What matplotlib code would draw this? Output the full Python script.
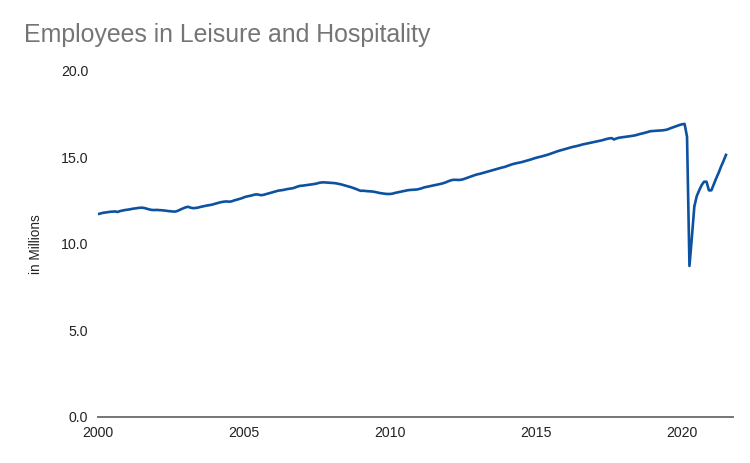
import matplotlib
matplotlib.use("Agg")
import matplotlib.pyplot as plt
import numpy as np

plt.rcParams['font.family'] = ['Liberation Sans', 'DejaVu Sans']

# Monthly employees in leisure and hospitality (millions), Jan 2000 - Jul 2021
years = list(range(2000, 2022))
values_by_year = {
    2000: [11.73, 11.76, 11.80, 11.82, 11.84, 11.86, 11.87, 11.88, 11.85, 11.90, 11.93, 11.96],
    2001: [11.98, 12.00, 12.03, 12.05, 12.07, 12.09, 12.10, 12.08, 12.04, 12.00, 11.97, 11.96],
    2002: [11.97, 11.96, 11.95, 11.94, 11.92, 11.90, 11.89, 11.87, 11.88, 11.93, 12.00, 12.06],
    2003: [12.12, 12.15, 12.10, 12.07, 12.08, 12.10, 12.14, 12.17, 12.20, 12.23, 12.25, 12.28],
    2004: [12.32, 12.36, 12.40, 12.43, 12.45, 12.46, 12.44, 12.47, 12.52, 12.56, 12.60, 12.64],
    2005: [12.70, 12.74, 12.77, 12.80, 12.84, 12.87, 12.85, 12.82, 12.84, 12.88, 12.92, 12.96],
    2006: [13.00, 13.04, 13.08, 13.10, 13.12, 13.15, 13.18, 13.20, 13.22, 13.27, 13.32, 13.36],
    2007: [13.37, 13.39, 13.41, 13.43, 13.45, 13.47, 13.50, 13.54, 13.56, 13.56, 13.55, 13.54],
    2008: [13.53, 13.52, 13.50, 13.47, 13.44, 13.40, 13.36, 13.32, 13.28, 13.23, 13.18, 13.12],
    2009: [13.07, 13.08, 13.06, 13.05, 13.04, 13.03, 13.00, 12.97, 12.94, 12.92, 12.90, 12.89],
    2010: [12.89, 12.91, 12.95, 12.98, 13.01, 13.04, 13.07, 13.10, 13.12, 13.13, 13.14, 13.15],
    2011: [13.18, 13.22, 13.27, 13.30, 13.33, 13.36, 13.39, 13.42, 13.45, 13.48, 13.52, 13.57],
    2012: [13.63, 13.68, 13.71, 13.71, 13.70, 13.71, 13.74, 13.79, 13.84, 13.89, 13.94, 13.99],
    2013: [14.03, 14.06, 14.10, 14.14, 14.18, 14.22, 14.26, 14.30, 14.34, 14.38, 14.42, 14.45],
    2014: [14.50, 14.55, 14.60, 14.64, 14.67, 14.70, 14.73, 14.77, 14.81, 14.85, 14.89, 14.94],
    2015: [14.98, 15.02, 15.05, 15.09, 15.13, 15.17, 15.22, 15.27, 15.32, 15.37, 15.41, 15.45],
    2016: [15.49, 15.53, 15.57, 15.61, 15.64, 15.67, 15.71, 15.75, 15.78, 15.81, 15.84, 15.87],
    2017: [15.90, 15.93, 15.96, 15.99, 16.03, 16.07, 16.10, 16.12, 16.04, 16.10, 16.14, 16.16],
    2018: [16.18, 16.20, 16.22, 16.24, 16.26, 16.29, 16.33, 16.37, 16.40, 16.44, 16.48, 16.52],
    2019: [16.53, 16.54, 16.55, 16.56, 16.57, 16.59, 16.62, 16.68, 16.73, 16.78, 16.83, 16.88],
    2020: [16.92, 16.94, 16.20, 8.73, 10.40, 12.16, 12.77, 13.10, 13.40, 13.60, 13.60, 13.10],
    2021: [13.10, 13.45, 13.80, 14.12, 14.48, 14.80, 15.15],
}

x_ticks = [2000, 2005, 2010, 2015, 2020]
x_tick_labels = ["2000", "2005", "2010", "2015", "2020"]
y_ticks = [0, 5, 10, 15, 20]
y_tick_labels = ["0.0", "5.0", "10.0", "15.0", "20.0"]

dates = []
vals = []
for y in years:
    for m, v in enumerate(values_by_year[y]):
        dates.append(y + m / 12.0)
        vals.append(v)

fig = plt.figure(figsize=(7.5, 4.63), dpi=100)
ax = fig.add_axes([0.1307, 0.0994, 0.8466, 0.7473])

ax.plot(dates, vals, color='#0d52a0', lw=1.9, solid_joinstyle='round')

ax.set_xlim(2000.0, 2021.74)
ax.set_ylim(0, 20)
ax.set_xticks(x_ticks)
ax.set_xticklabels(x_tick_labels)
ax.set_yticks(y_ticks)
ax.set_yticklabels(y_tick_labels)
ax.tick_params(axis='both', length=0, labelsize=10.2, colors='#222222')
ax.tick_params(axis='y', pad=7)
ax.tick_params(axis='x', pad=6.5)

for s in ['top', 'right', 'left']:
    ax.spines[s].set_visible(False)
ax.spines['bottom'].set_color('#757575')
ax.spines['bottom'].set_linewidth(1.4)

ax.set_ylabel('in Millions', fontsize=9.8, color='#222222', labelpad=13)

fig.text(24 / 750, 1 - 35 / 463, 'Employees in Leisure and Hospitality',
         fontsize=17.9, color='#757575', ha='left', va='center')

fig.savefig('out.png', dpi=100)
